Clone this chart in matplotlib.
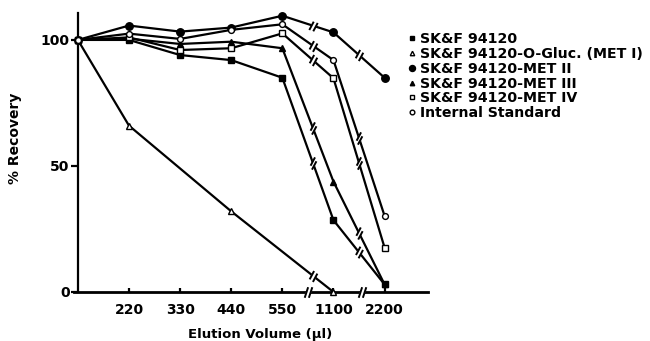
'''
Elution profile: % recovery vs elution volume
'''
import numpy as np
import matplotlib
matplotlib.use('Agg')
import matplotlib.pyplot as plt
from matplotlib.path import Path

# data
vol_labels = ['220', '330', '440', '550', '1100', '2200']
pos_all = [0, 1, 2, 3, 4, 5, 6]

names = ['SK&F 94120', 'SK&F 94120-O-Gluc. (MET I)', 'SK&F 94120-MET II',
         'SK&F 94120-MET III', 'SK&F 94120-MET IV', 'Internal Standard']

skf = [100, 100, 94, 92, 85, 28.5, 3]
met1_pos = [0, 1, 3, 5]
met1 = [100, 66, 32, 0]
met2 = [100, 105.7, 103.3, 104.9, 109.6, 103, 85]
met3 = [100, 100.5, 98.4, 99.3, 96.7, 43.8, 3]
met4 = [100, 101, 96, 96.7, 102.6, 84.8, 17.6]
istd = [100, 102.5, 100.4, 104, 106.2, 92, 30.2]

plt.rcParams['font.family'] = 'DejaVu Sans'
plt.rcParams['font.weight'] = 'bold'

fig = plt.figure(figsize=(6.5, 3.41), dpi=100)
ax = fig.add_axes([0.1135, 0.1437, 0.545, 0.8183])
ax.set_xlim(-0.08, 6.85)
ax.set_ylim(0, 110.7)


def break_paths(ang, s=1.5, h=3.4, g=1.3, slant=62):
    '''slash pair "//" across a line of display angle ang (deg), units = points'''
    u = np.array([np.cos(np.radians(ang)), np.sin(np.radians(ang))])
    v = np.array([np.cos(np.radians(slant)), np.sin(np.radians(slant))])
    ca, cb = -s * u, s * u
    slash = np.array([ca - h * v, ca + h * v, cb - h * v, cb + h * v])
    gap = np.array([ca - g * v, cb - g * v, cb + g * v, ca + g * v, ca - g * v])
    p1 = Path(slash, [Path.MOVETO, Path.LINETO, Path.MOVETO, Path.LINETO])
    p2 = Path(gap, [Path.MOVETO, Path.LINETO, Path.LINETO, Path.LINETO, Path.CLOSEPOLY])
    return p1, 2 * np.abs(slash).max(), p2, 2 * np.abs(gap).max()


def draw_break(ax, x, y, ang, **kw):
    p1, m1, p2, m2 = break_paths(ang, **kw)
    ax.plot([x], [y], marker=p2, ms=m2, mfc='white', mec='white', mew=0.8,
            ls='none', zorder=3, clip_on=False)
    ax.plot([x], [y], marker=p1, ms=m1, mfc='none', mec='black', mew=1.4,
            ls='none', zorder=3.5, clip_on=False)


def line_breaks(ax, xs, ys, bxs):
    for bx in bxs:
        if bx <= xs[0] or bx >= xs[-1]:
            continue
        i = np.searchsorted(xs, bx) - 1
        d = ax.transData.transform([(xs[i], ys[i]), (xs[i + 1], ys[i + 1])])
        ang = np.degrees(np.arctan2(d[1, 1] - d[0, 1], d[1, 0] - d[0, 0]))
        draw_break(ax, bx, np.interp(bx, xs, ys), ang)


series = [
    (pos_all, skf, 's', 'black', 4.2),
    (met1_pos, met1, '^', 'white', 4.0),
    (pos_all, met2, 'o', 'black', 5.4),
    (pos_all, met3, '^', 'black', 4.0),
    (pos_all, met4, 's', 'white', 3.8),
    (pos_all, istd, 'o', 'white', 4.2),
]

handles = []
for (xs, ys, mk, fc, ms), nm in zip(series, names):
    ax.plot(xs, ys, '-', color='black', lw=1.6, zorder=2, clip_on=False)
    h, = ax.plot(xs, ys, ls='none', marker=mk, ms=ms, mfc=fc, mec='black',
                 mew=1.0, zorder=4, clip_on=False, label=nm)
    handles.append(h)
    line_breaks(ax, xs, ys, [4.6, 5.5])

# axes styling
for s in ['top', 'right']:
    ax.spines[s].set_visible(False)
ax.spines['left'].set_position(('data', 0))
ax.spines['left'].set_linewidth(1.6)
ax.spines['bottom'].set_linewidth(2.0)

ax.set_xticks(pos_all[1:])
ax.set_xticklabels(vol_labels)
ax.set_yticks([0, 50, 100])
ax.tick_params(axis='x', direction='in', length=3, width=1.6, pad=8, labelsize=10)
ax.tick_params(axis='y', direction='out', length=5, width=1.6, pad=1, labelsize=10)

# x axis breaks
for bx in [4.5, 5.55]:
    draw_break(ax, bx, 0, 0, h=4.0, slant=72)

ax.set_xlabel('Elution Volume (µl)', fontsize=9.5, fontweight='bold')
ax.xaxis.set_label_coords(0.525, -0.13)
ax.set_ylabel('% Recovery', fontsize=10, fontweight='bold')
ax.yaxis.set_label_coords(-0.145, 0.55)

fig.legend(handles=handles, loc='upper left',
           bbox_to_anchor=(408.5 / 650, 1 - 32 / 341), frameon=False,
           fontsize=10.2, handlelength=0.5, handletextpad=0.3, labelspacing=0.06,
           borderpad=0, borderaxespad=0, markerscale=0.8)

fig.savefig('out.png', dpi=100)
